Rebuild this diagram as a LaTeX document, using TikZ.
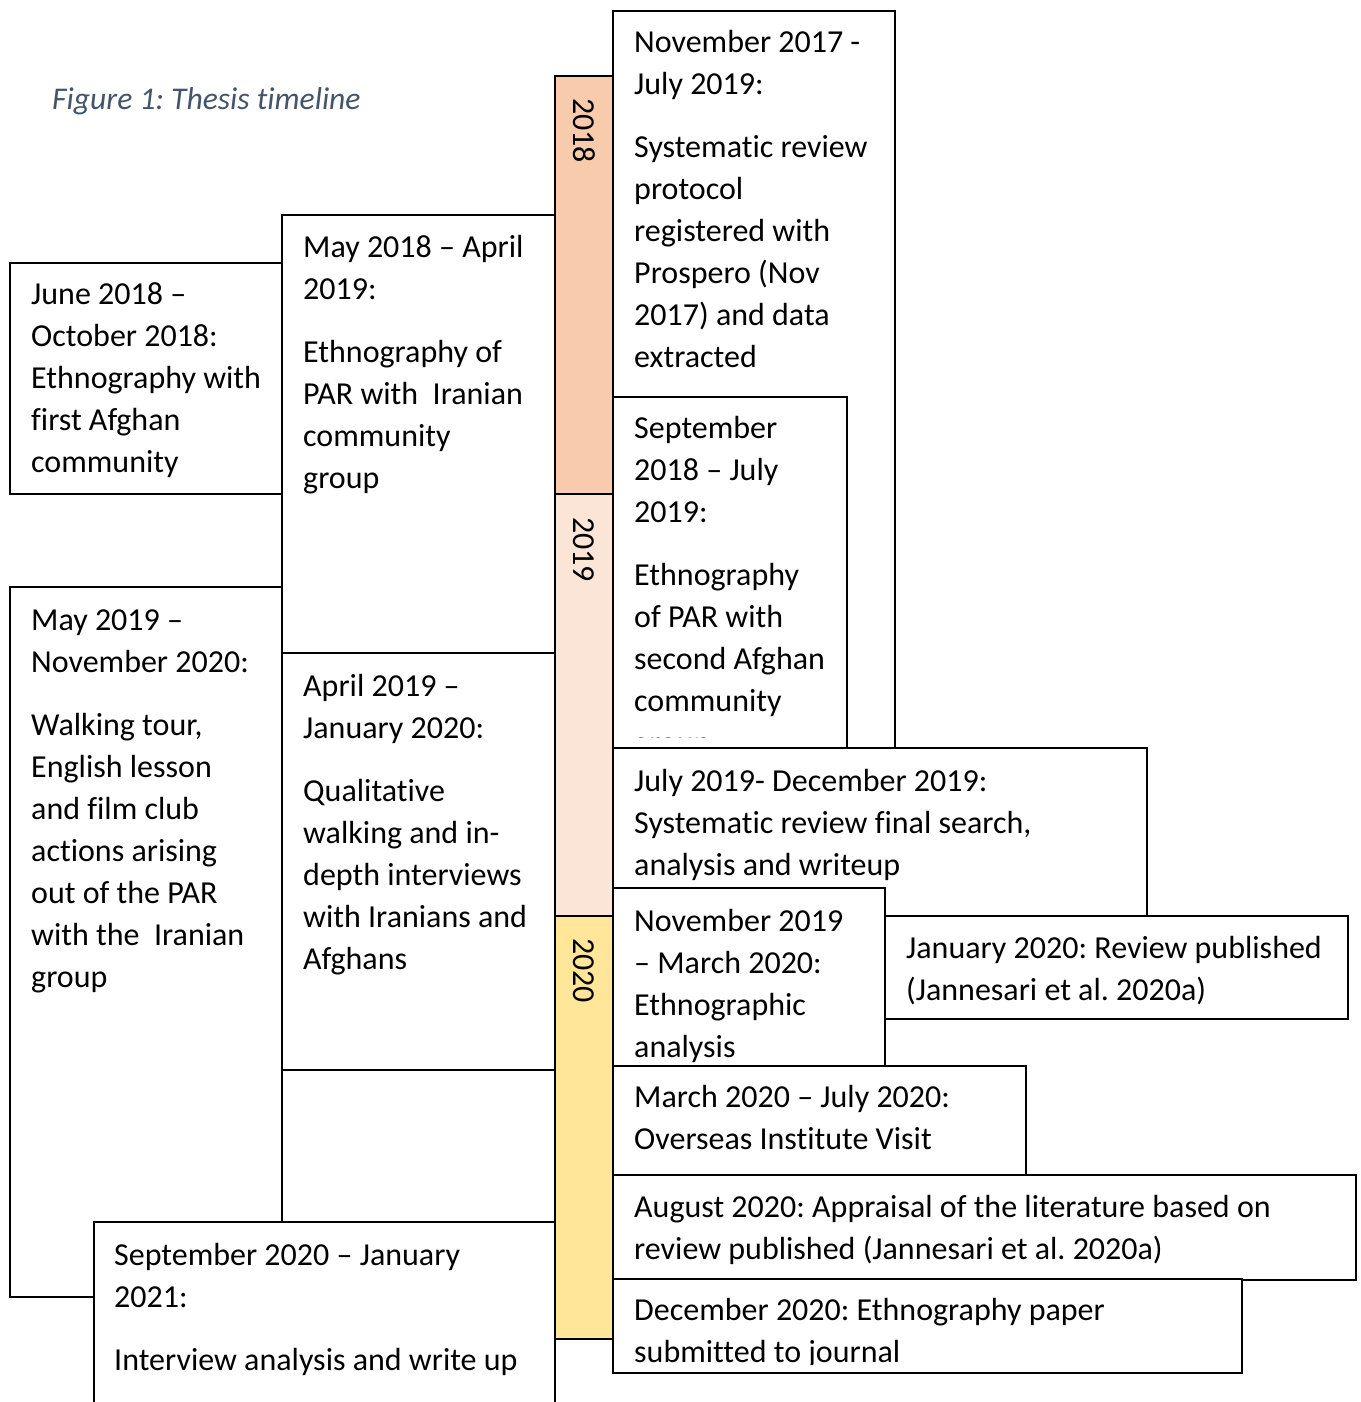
\documentclass[tikz,border=0pt]{standalone}
\usepackage{fontspec}
\setmainfont{Carlito}[Ligatures={NoCommon}]
\frenchspacing
\definecolor{yA}{HTML}{F8CBAD}
\definecolor{yB}{HTML}{FBE5D6}
\definecolor{yC}{HTML}{FFE699}
\definecolor{capc}{HTML}{44546A}
\begin{document}
\begin{tikzpicture}[x=1pt,y=-1pt,
  box/.style={draw=black,fill=white,line width=2pt},
  bar/.style={draw=black,line width=2pt},
  body/.style={anchor=base west,inner sep=0pt,align=left,font=\fontsize{32}{42}\selectfont\frenchspacing},
  yr/.style={anchor=west,inner sep=0pt,rotate=-90,font=\fontsize{32}{38}\selectfont}]
\useasboundingbox (0,0) rectangle (1360,1402);
\fill[white] (0,0) rectangle (1360,1402);

\node[anchor=base west,inner sep=0pt,text=capc,font=\fontsize{31.6}{36}\selectfont\itshape] (cap) at (52,110) {Figure 1: Thesis timeline};

% year bars
\draw[bar,fill=yA] (555,76) rectangle (613,494);
\draw[bar,fill=yB] (555,494) rectangle (613,916);
\draw[bar,fill=yC] (555,916) rectangle (613,1339);
\node[yr] (t18) at (584,98) {2018};
\node[yr] (t19) at (584,517) {2019};
\node[yr] (t20) at (584,938) {2020};

% right column (node positions give the baseline of the last line)
\draw[box] (613,11) rectangle (895,748);
\node[body] (a) at (634,367) {November 2017 -\\July 2019:\\[21pt]Systematic review\\protocol\\registered with\\Prospero (Nov\\2017) and data\\extracted};

\draw[box] (613,397) rectangle (847,748);
\begin{scope}
\clip (613,397) rectangle (847,737);
\node[body] (b) at (634,753) {September\\2018 – July\\2019:\\[21pt]Ethnography\\of PAR with\\second Afghan\\community\\group};
\end{scope}

\draw[box] (613,748) rectangle (1147,916);
\node[body] (c) at (634,875) {July 2019- December 2019:\\Systematic review final search,\\analysis and writeup};

\draw[box] (613,888) rectangle (885,1066);
\node[body] (d) at (634,1057) {November 2019\\– March 2020:\\Ethnographic\\analysis};

\draw[box] (885,916) rectangle (1348,1019);
\node[body] (e) at (906,1000) {January 2020: Review published\\(Jannesari et al. 2020a)};

\draw[box] (613,1066) rectangle (1026,1175);
\node[body] (f) at (634,1149) {March 2020 – July 2020:\\Overseas Institute Visit};

\draw[box] (613,1175) rectangle (1356,1280);
\node[body] (g) at (634,1259) {August 2020: Appraisal of the literature based on\\review published (Jannesari et al. 2020a)};

\draw[box] (613,1279) rectangle (1242,1373);
\begin{scope}
\clip (613,1279) rectangle (1242,1364);
\node[body] (h) at (634,1362) {December 2020: Ethnography paper\\submitted to journal};
\end{scope}

% left columns
\draw[box] (10,263) rectangle (282,494);
\node[body] (i) at (31,472) {June 2018 –\\October 2018:\\Ethnography with\\first Afghan\\community};

\draw[box] (282,215) rectangle (555,653);
\node[body] (j) at (303,488) {May 2018 – April\\2019:\\[21pt]Ethnography of\\PAR with~~Iranian\\community\\group};

\draw[box] (10,587) rectangle (282,1297);
\node[body] (k) at (31,987) {May 2019 –\\November 2020:\\[21pt]Walking tour,\\English lesson\\and film club\\actions arising\\out of the PAR\\with the~~Iranian\\group};

\draw[box] (282,653) rectangle (555,1070);
\node[body] (l) at (303,969) {April 2019 –\\January 2020:\\[21pt]Qualitative\\walking and in-\\depth interviews\\with Iranians and\\Afghans};

\draw[box] (282,1070) rectangle (555,1240);

\draw[box] (94,1222) rectangle (555,1412);
\node[body] (n) at (114,1370) {September 2020 – January\\2021:\\[21pt]Interview analysis and write up};
\end{tikzpicture}
\end{document}
